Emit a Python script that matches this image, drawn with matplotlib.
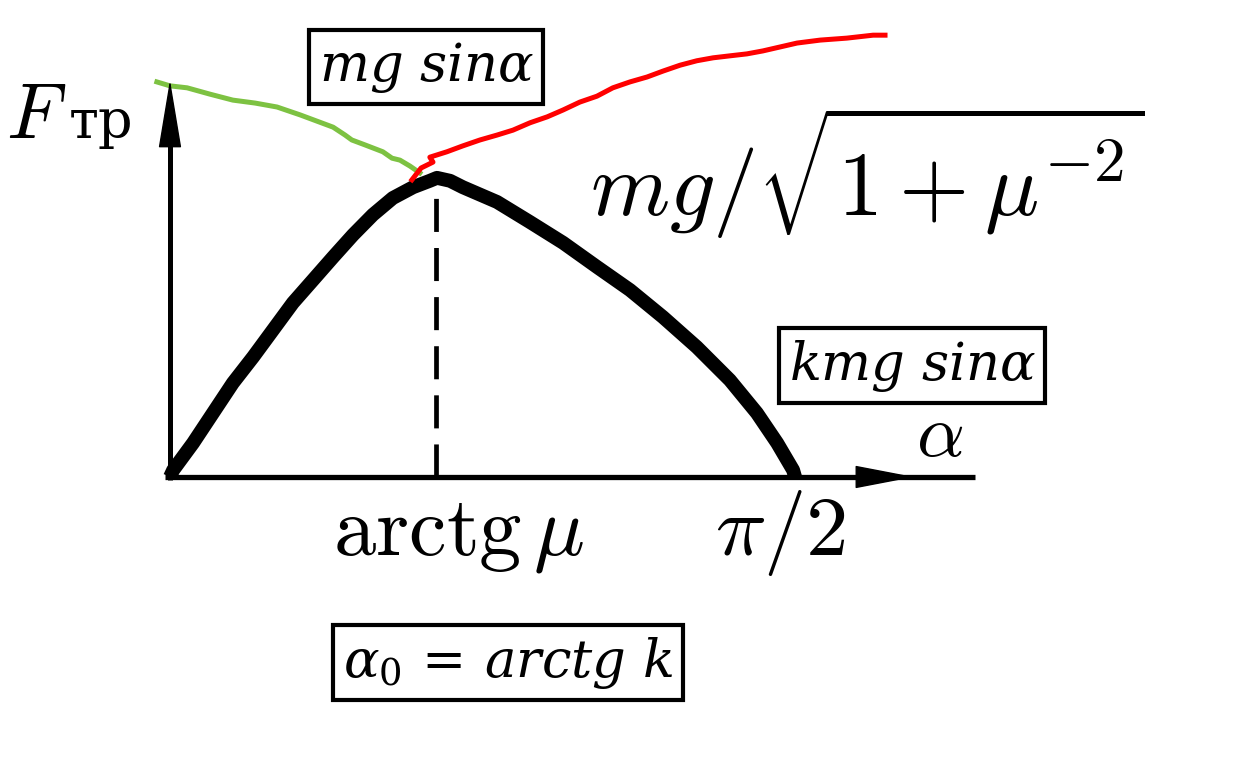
import matplotlib
matplotlib.use("Agg")
import matplotlib.pyplot as plt

# ---- data (alpha in rad, F in units of mg) ----
alpha_curve = [0.000, 0.008, 0.058, 0.108, 0.158, 0.209, 0.259, 0.309, 0.359, 0.410, 0.460,
               0.510, 0.560, 0.611, 0.653, 0.671, 0.704, 0.736, 0.822, 0.905, 0.988, 1.073,
               1.156, 1.239, 1.324, 1.407, 1.475, 1.526, 1.566, 1.571]
force_curve = [0.000, 0.014, 0.069, 0.130, 0.191, 0.244, 0.299, 0.354, 0.400, 0.447, 0.492,
               0.533, 0.567, 0.589, 0.602, 0.608, 0.602, 0.589, 0.559, 0.518, 0.476, 0.427,
               0.380, 0.325, 0.264, 0.197, 0.130, 0.069, 0.014, 0.000]

alpha_green = [-0.033, 0.000, 0.043, 0.101, 0.158, 0.214, 0.269, 0.327, 0.410, 0.440, 0.457,
               0.490, 0.535, 0.558, 0.578, 0.603, 0.628]
force_green = [0.803, 0.795, 0.791, 0.778, 0.766, 0.760, 0.752, 0.736, 0.711, 0.695, 0.685,
               0.675, 0.661, 0.648, 0.644, 0.632, 0.618]

alpha_red = [0.608, 0.631, 0.661, 0.653, 0.696, 0.736, 0.779, 0.822, 0.862, 0.905, 0.948,
             0.988, 1.030, 1.073, 1.113, 1.156, 1.199, 1.239, 1.282, 1.324, 1.365, 1.407,
             1.450, 1.490, 1.533, 1.576, 1.634, 1.701, 1.767, 1.797]
force_red = [0.604, 0.628, 0.640, 0.650, 0.661, 0.673, 0.685, 0.695, 0.705, 0.720, 0.732,
             0.746, 0.762, 0.774, 0.791, 0.803, 0.813, 0.825, 0.837, 0.846, 0.852, 0.856,
             0.860, 0.866, 0.874, 0.882, 0.888, 0.892, 0.898, 0.898]

alpha_0 = 0.669          # arctg mu
alpha_end = 1.571        # pi/2
x_axis_span = [-0.013, 2.023]
y_axis_top = 0.807

fig = plt.figure(figsize=(12.53, 7.74), dpi=100)
ax = fig.add_axes([0, 0, 1, 1])
ax.set_xlim(-0.4272, 2.7218)
ax.set_ylim(-0.6037, 0.9695)
ax.axis('off')

# axes
ax.plot(x_axis_span, [0, 0], color='black', lw=3.8, solid_capstyle='butt')
ax.plot([0, 0], [-0.006, y_axis_top - 0.05], color='black', lw=3.6, solid_capstyle='butt')
ax.annotate('', xy=(0, y_axis_top), xytext=(0, y_axis_top - 0.13),
            arrowprops=dict(arrowstyle='-|>,head_length=3.0,head_width=0.5', mutation_scale=15,
                            color='black', lw=1, shrinkA=0, shrinkB=0))
ax.annotate('', xy=(1.87, 0), xytext=(1.745, 0),
            arrowprops=dict(arrowstyle='-|>,head_length=2.6,head_width=0.5', mutation_scale=15,
                            color='black', lw=1, shrinkA=0, shrinkB=0))

# dashed marker
ax.plot([alpha_0, alpha_0], [0, 0.58], color='black', lw=3.4,
        linestyle=(0, (7.0, 3.4)), solid_capstyle='butt')

# main curve
ax.plot(alpha_curve, force_curve, color='black', lw=10, solid_joinstyle='round',
        solid_capstyle='butt')

# hand-drawn annotations
ax.plot(alpha_green, force_green, color='#7dc242', lw=3.6, solid_joinstyle='round')
ax.plot(alpha_red, force_red, color='#ff0000', lw=3.6, solid_joinstyle='round')

# labels (Computer Modern style)
ax.text(-0.412, 0.689, r'$F$', math_fontfamily='cm', fontsize=56, ha='left', va='baseline')
ax.text(-0.254, 0.689, 'тр', family='DejaVu Serif', fontsize=39, ha='left', va='baseline')
ax.text(1.935, 0.085, r'$\alpha$', math_fontfamily='cm', fontsize=54, ha='center', va='center')
ax.text(0.410, -0.1585, r'$\mathrm{arctg}\,\mu$', math_fontfamily='cm', fontsize=61,
        ha='left', va='baseline')
ax.text(1.370, -0.1585, r'$\pi/2$', math_fontfamily='cm', fontsize=61, ha='left', va='baseline')
ax.text(1.0555, 0.530, r'$mg/\sqrt{1+\mu^{-2}}$', math_fontfamily='cm', fontsize=65,
        ha='left', va='baseline')

# boxed notes
box = dict(boxstyle='square,pad=0.18', fc='white', ec='black', lw=3)
ax.text(0.6434, 0.8333, r'$mg\ sin\alpha$', math_fontfamily='dejavuserif', fontsize=38,
        ha='center', va='center', bbox=box)
ax.text(1.8648, 0.2256, r'$kmg\ sin\alpha$', math_fontfamily='dejavuserif', fontsize=38,
        ha='center', va='center', bbox=box)
ax.text(0.8495, -0.378, r'$\alpha_0\,=\,arctg\ k$', math_fontfamily='dejavuserif', fontsize=38,
        ha='center', va='center', bbox=box)

fig.savefig('out.png', dpi=100)
